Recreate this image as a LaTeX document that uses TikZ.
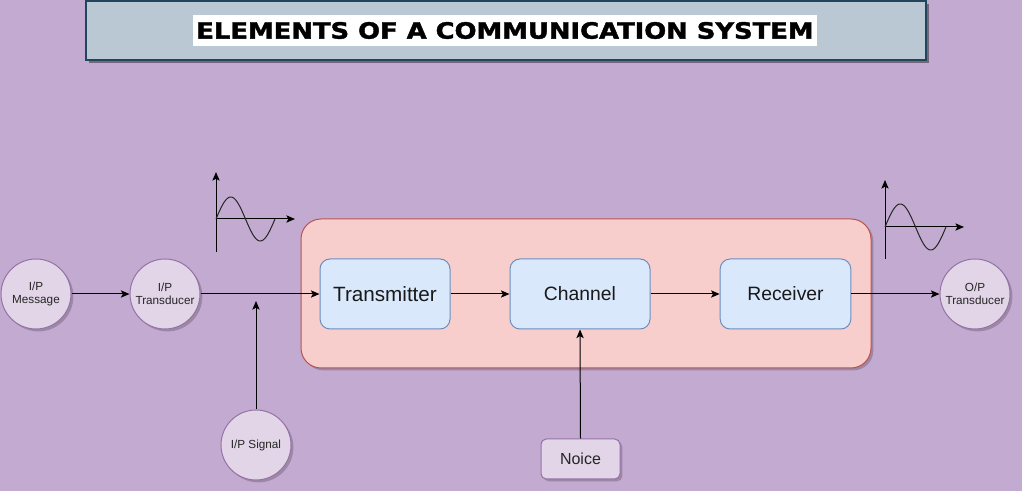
\documentclass[tikz,border=0pt]{standalone}
\usepackage{fontspec}
\setmainfont{Liberation Sans}
\newfontfamily\titlefont[BoldFeatures={FakeBold=1.6}]{DejaVu Sans}
\usetikzlibrary{shadows,arrows.meta}
\definecolor{bg}{HTML}{C3AAD0}
\definecolor{titlefill}{HTML}{BAC8D3}
\definecolor{titledraw}{HTML}{23445D}
\definecolor{purfill}{HTML}{E1D5E7}
\definecolor{purdraw}{HTML}{9673A6}
\definecolor{redfill}{HTML}{F8CECC}
\definecolor{reddraw}{HTML}{B85450}
\definecolor{bluefill}{HTML}{DAE8FC}
\definecolor{bluedraw}{HTML}{6C8EBF}
\tikzset{
  shad/.style={drop shadow={shadow xshift=1.8pt,shadow yshift=-1.8pt,opacity=0.2,fill=black}},
  circ/.style={circle,fill=purfill,draw=purdraw,line width=0.75pt,minimum size=52.5pt,inner sep=0pt,
     align=center,font=\fontsize{8.8pt}{9.8pt}\selectfont,text=black!85,shad},
  block/.style={rectangle,rounded corners=7.5pt,fill=bluefill,draw=bluedraw,line width=0.75pt,
     minimum height=52.5pt,inner sep=0pt,font=\fontsize{14.5pt}{16pt}\selectfont,text=black!90},
  conn/.style={line width=0.75pt,-{Stealth[length=6.5pt,width=5.5pt,inset=1.5pt]}},
  axis/.style={line width=0.75pt,-{Stealth[length=6.5pt,width=5.5pt,inset=1.5pt]}},
  wave/.style={line width=0.75pt,black!85}
}
\begin{document}
\begin{tikzpicture}[x=0.75pt,y=-0.75pt]
\fill[bg] (0,0) rectangle (1022,491);
\useasboundingbox (0,0) rectangle (1022,491);

% title
\node[rectangle,fill=titlefill,draw=titledraw,line width=0.9pt,minimum width=630pt,minimum height=44.25pt,
  inner sep=0pt,drop shadow={shadow xshift=2pt,shadow yshift=-2pt,opacity=0.4,fill=black}] (titlebox) at (506,30.5) {};
\node[fill=white,inner sep=0pt,minimum width=468pt,minimum height=23.25pt] (title) at (505,30.5)
  {\resizebox{463pt}{12.5pt}{\titlefont\bfseries ELEMENTS OF A COMMUNICATION SYSTEM}};

% system box
\node[rectangle,rounded corners=15pt,fill=redfill,draw=reddraw,line width=0.75pt,minimum width=427.5pt,
  minimum height=111.75pt,inner sep=0pt,shad] (system) at (586,293.5) {};

\node[block,minimum width=97.5pt,font=\fontsize{15.5pt}{17pt}\selectfont] (tx) at (385,294) {Transmitter};
\node[block,minimum width=105pt] (ch) at (580,294) {Channel};
\node[block,minimum width=98pt] (rx) at (785.5,294) {Receiver};

% circles
\node[circ] (msg) at (36,294) {I/P\\Message};
\node[circ] (itr) at (165,294) {I/P\\Transducer};
\node[circ] (sig) at (256,445) {I/P Signal};
\node[circ] (otr) at (975,294) {O/P\\Transducer};

% noise
\node[rectangle,rounded corners=4pt,fill=purfill,draw=purdraw,line width=0.75pt,minimum width=59.25pt,
  minimum height=30pt,inner sep=0pt,font=\fontsize{12pt}{14pt}\selectfont,text=black!85,shad] (noise) at (580.5,459) {Noice};

% connectors
\draw[conn] (msg) -- (itr);
\draw[conn] (itr) -- (tx);
\coordinate (sigtip) at (256,301);
\draw[conn] (sig.north) -- (sigtip);
\draw[conn] (tx) -- (ch);
\draw[conn] (ch) -- (rx);
\draw[conn] (rx) -- (otr);
\draw[conn] (noise.north) -- (ch.south);

% input waveform
\coordinate (o1) at (216,219);
\draw[axis] (216,252) -- (216,172);
\draw[axis] (o1) -- (295,219);
\draw[wave] plot[domain=0:59,samples=60,smooth] ({216+\x},{219-22*sin(\x/59*360)});

% output waveform
\coordinate (o2) at (885,227);
\draw[axis] (885,259) -- (885,180);
\draw[axis] (o2) -- (964,227);
\draw[wave] plot[domain=0:61,samples=60,smooth] ({885+\x},{227-23*sin(\x/61*360)});
\end{tikzpicture}
\end{document}
